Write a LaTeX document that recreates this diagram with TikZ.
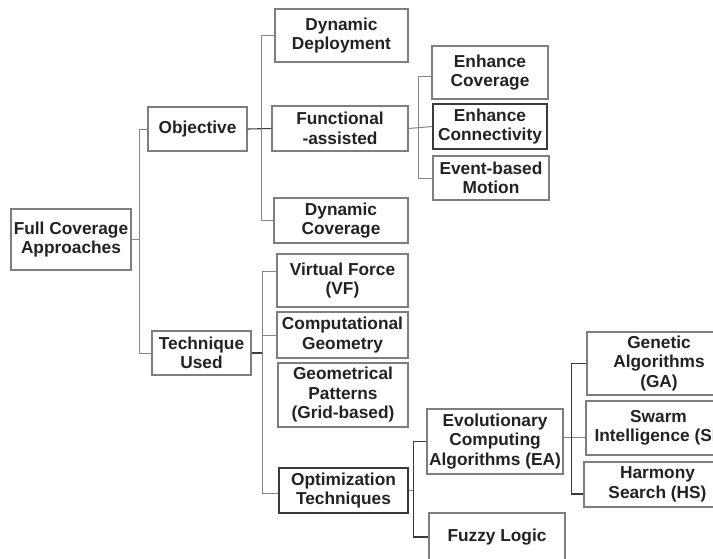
\documentclass[tikz,border=0pt]{standalone}
\usepackage{fontspec}
\setmainfont{Liberation Sans}
\usetikzlibrary{calc}
\definecolor{boxline}{HTML}{7E7E7E}
\definecolor{darkline}{HTML}{3A3A3A}
\definecolor{linkgray}{HTML}{858585}
\definecolor{ink}{HTML}{222222}
\begin{document}
\begin{tikzpicture}[x=1pt,y=-1pt,
  box/.style={draw=boxline, line width=1.2pt, rectangle, inner sep=0pt,
    align=center, text=ink, font=\fontsize{17.3}{19.5}\selectfont\bfseries},
  darkbox/.style={box, draw=darkline},
  link/.style={draw=linkgray, line width=1pt},
  darklink/.style={draw=darkline, line width=1.1pt}]
\useasboundingbox (0,0) rectangle (713,558);
\clip (0,0) rectangle (713,558);

% root and first level
\node[box, minimum width=120pt, minimum height=61pt] (full) at (71,239.5) {Full Coverage\\Approaches};
\node[box, minimum width=99pt, minimum height=44pt] (obj) at (197.5,129) {Objective};
\node[box, minimum width=99pt, minimum height=44pt] (tech) at (201.5,353) {Technique\\Used};

% objectives
\node[box, minimum width=133pt, minimum height=53pt] (dd) at (341.5,35.5) {Dynamic\\Deployment};
\node[box, minimum width=136pt, minimum height=45pt] (fa) at (340,128.5) {Functional\\-assisted};
\node[box, minimum width=134pt, minimum height=45pt] (dc) at (341,220.5) {Dynamic\\Coverage};

\node[box, minimum width=116pt, minimum height=53pt] (ec) at (490,72.5) {Enhance\\Coverage};
\node[darkbox, minimum width=114pt, minimum height=45pt] (econ) at (490,126.5) {Enhance\\Connectivity};
\node[box, minimum width=116pt, minimum height=44pt] (ebm) at (491,178) {Event-based\\Motion};

% techniques
\node[box, minimum width=131pt, minimum height=53pt] (vf) at (342.5,280.5) {Virtual Force\\(VF)};
\node[box, minimum width=131pt, minimum height=46pt] (cg) at (342.5,335) {Computational\\Geometry};
\node[box, minimum width=130pt, minimum height=64pt] (gp) at (343,395) {Geometrical\\Patterns\\(Grid-based)};
\node[darkbox, minimum width=129pt, minimum height=45pt] (opt) at (343.5,490.5) {Optimization\\Techniques};

\node[box, minimum width=136pt, minimum height=65pt] (ea) at (495,441.5) {Evolutionary\\Computing\\Algorithms (EA)};
\node[box, minimum width=136pt, minimum height=48pt] (fl) at (497,537) {Fuzzy Logic};

\node[box, minimum width=144pt, minimum height=63pt] (ga) at (659,363.5) {Genetic\\Algorithms\\(GA)};
\node[box, minimum width=145pt, minimum height=54pt] (si) at (658.5,428) {Swarm\\Intelligence (SI)};
\node[box, minimum width=147pt, minimum height=45pt] (hs) at (657.5,484.5) {Harmony\\Search (HS)};

% bus positions
\coordinate (b1) at (140,0);
\coordinate (b3) at (263,0);
\coordinate (b5) at (414,0);

% root connectors
\draw[link] (obj.west) -- ++(-8,0) |- (tech.west);
\draw[link] (full.east) -- (full.east -| b1);

% objective connectors
\draw[darklink] (obj.east) -- (fa.west);
\draw[link] (dd.west) -- ++(-13,0) |- (dc.west);
\draw[link] (fa.east) -- (econ.west);
\draw[link] ($(ec.west)+(0,3.5)$) -- ++(-13,0) |- (ebm.west);

% technique connectors
\draw[darklink] (tech.east) -- (tech.east -| b3);
\draw[link] ($(vf.west)+(0,-9.5)$) -- ++(-14,0) |- ($(opt.west)+(0,2.5)$);
\draw[link] (cg.west) -- (cg.west -| b3);
\draw[link] ($(gp.west)+(0,18)$) -- ($(gp.west)+(0,18)$ -| b3);

% optimization connectors
\draw[link] (opt.east) -- (opt.east -| b5);
\draw[darklink] (ea.west) -- ++(-13,0) |- (fl.west);
\draw[link] ($(ea.east)+(0,-4.5)$) -- ($(si.west)+(0,9)$);
\draw[darklink] (ga.west) -- ++(-15,0) |- ($(hs.west)+(0,9.5)$);
\end{tikzpicture}
\end{document}
